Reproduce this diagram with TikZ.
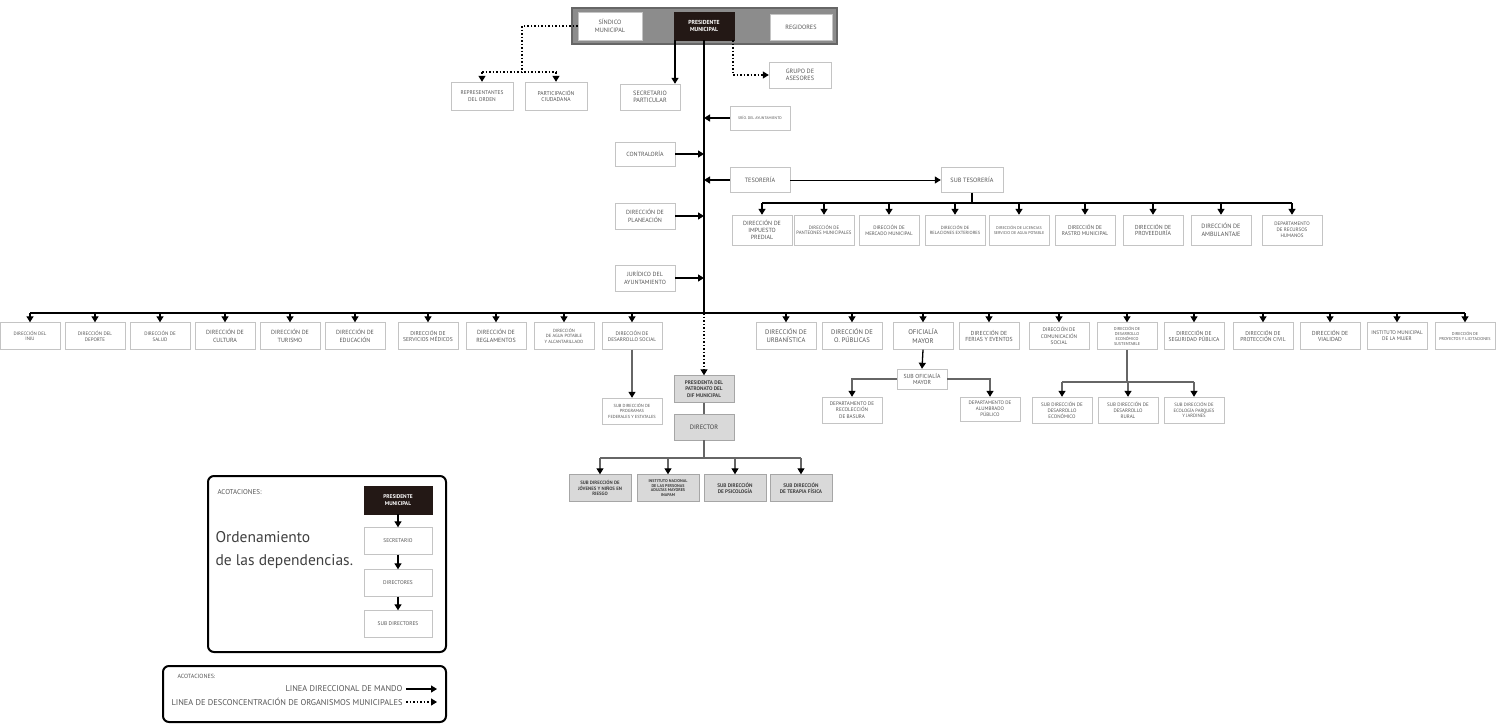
\documentclass[tikz,border=0pt]{standalone}
\usepackage{fontspec}
\setmainfont{PT Sans}
\usetikzlibrary{arrows.meta}

\definecolor{presbrown}{HTML}{231815}
\definecolor{boxline}{HTML}{C4C4C4}
\definecolor{boxtext}{HTML}{555555}
\definecolor{difgray}{HTML}{D9D9D9}
\definecolor{bannergray}{HTML}{8C8C8C}

\begin{document}
\begin{tikzpicture}[x=1pt,y=-1pt,
	box/.style={draw=boxline, fill=white, align=center, minimum width=60, minimum height=26, inner sep=1pt, text=boxtext, font=\fontsize{6}{7.2}\selectfont},
	fsz/.style={font=\fontsize{#1}{\fpeval{1.2*#1}}\selectfont},
	presbox/.style={box, draw=presbrown, fill=presbrown, text=white, font=\fontsize{5.8}{7}\selectfont\bfseries},
	difbox/.style={box, draw=black!35, fill=difgray, text=black!75, font=\fontsize{5.2}{6.2}\selectfont\bfseries},
	mando/.style={line width=1.3pt, -{Triangle[width=7pt,length=6pt]}},
	desc/.style={line width=1.2pt, dash pattern=on 1.5pt off 2pt},
	descarrow/.style={desc, -{Triangle[width=7pt,length=6pt]}},
	sub/.style={line width=1.2pt, draw=black!60},
	subarrow/.style={sub, -{Triangle[width=7pt,length=6pt,color=black]}},
	legframe/.style={line width=2pt, rounded corners=6pt},
]

% parameters %{{{2

	\def\busy{313}
	\def\rowy{336}
	\def\tesy{203}
	\def\tesrowy{230}
	\def\difbusy{458}
	\def\subbusy{382}

	\fill[white] (0,0) rectangle (1508,726);
	\useasboundingbox (0,0) rectangle (1508,726);

% banner %{{{2

	\filldraw[fill=bannergray, draw=black!60, line width=1.5pt] (572,8) rectangle (837,44);

	\node[box, minimum width=64, minimum height=28, fsz=6.2] (sind) at (610,26) {SÍNDICO\\MUNICIPAL};
	\node[presbox, minimum height=28] (pres) at (704,26) {PRESIDENTE\\MUNICIPAL};
	\node[box, minimum width=62, fsz=6.2] (regid) at (801,27) {REGIDORES};

% upper nodes %{{{2

	\node[box, minimum width=62, minimum height=28, fsz=5.4] (repr) at (482,96) {REPRESENTANTES\\DEL ORDEN};
	\node[box, minimum width=62, minimum height=28, fsz=5.6] (part) at (556,96) {PARTICIPACIÓN\\CIUDADANA};
	\node[box, fsz=6.2] (secp) at (650,97) {SECRETARIO\\PARTICULAR};
	\node[box, minimum width=62, fsz=6.2] (grupo) at (800,75) {GRUPO DE\\ASESORES};
	\node[box, minimum height=24, fsz=3.8] (srio) at (760,118) {SRÍO. DEL AYUNTAMIENTO};
	\node[box, minimum height=24] (contr) at (645,154) {CONTRALORÍA};
	\node[box, minimum height=25, fsz=6.2] (tesor) at (760,180) {TESORERÍA};
	\node[box, minimum width=62, minimum height=25, fsz=6.2] (subt) at (972,180) {SUB TESORERÍA};
	\node[box] (plan) at (645,216) {DIRECCIÓN DE\\PLANEACIÓN};
	\node[box] (jur) at (645,278) {JURÍDICO DEL\\AYUNTAMIENTO};

% upper connectors %{{{2

	\coordinate (sv) at (522,72);
	\coordinate (bus) at (0,\busy);

	\draw[desc] (sind.west) -| (sv);
	\draw[desc] (sv -| repr.north) -- (sv -| part.north);
	\draw[descarrow] (sv -| repr.north) -- (repr.north);
	\draw[descarrow] (sv -| part.north) -- (part.north);

	\draw[descarrow] ([xshift=29]pres.south) |- (grupo.west);
	\draw[mando] ([xshift=-29]pres.south) -- ([xshift=-29]pres.south |- secp.north);

	\draw[line width=2pt] (pres.south) -- (pres.south |- bus);

	\draw[mando] (srio.west) -- (srio.west -| pres.south);
	\draw[mando] (contr.east) -- (contr.east -| pres.south);
	\draw[mando] (tesor.west) -- (tesor.west -| pres.south);
	\draw[mando] (plan.east) -- (plan.east -| pres.south);
	\draw[mando] (jur.east) -- (jur.east -| pres.south);
	\draw[line width=1pt, -{Triangle[width=7pt,length=6pt]}] (tesor.east) -- (subt.west);

% sub tesoreria row %{{{2

	\coordinate (tbus) at (0,\tesy);

	\begin{scope}[every node/.append style={box, minimum height=30}]
		\node[fsz=6] (imp) at (762,\tesrowy) {DIRECCIÓN DE\\IMPUESTO\\PREDIAL};
		\node[fsz=4.8] (pant) at (824,\tesrowy) {DIRECCIÓN DE\\PANTEONES MUNICIPALES};
		\node[fsz=5] (merc) at (889,\tesrowy) {DIRECCIÓN DE\\MERCADO MUNICIPAL};
		\node[fsz=4.5] (rext) at (955,\tesrowy) {DIRECCIÓN DE\\RELACIONES EXTERIORES};
		\node[fsz=4.1] (lic) at (1019,\tesrowy) {DIRECCIÓN DE LICENCIAS\\SERVICIO DE AGUA POTABLE};
		\node[fsz=5.4] (rast) at (1085,\tesrowy) {DIRECCIÓN DE\\RASTRO MUNICIPAL};
		\node[fsz=5.8] (prov) at (1153,\tesrowy) {DIRECCIÓN DE\\PROVEEDURÍA};
		\node[fsz=6.2] (amb) at (1221,\tesrowy) {DIRECCIÓN DE\\AMBULANTAJE};
		\node[fsz=5] (rhum) at (1292,\tesrowy) {DEPARTAMENTO\\DE RECURSOS\\HUMANOS};
	\end{scope}

	\draw[line width=1.3pt] (subt.south) -- (subt.south |- tbus);
	\draw[line width=1.5pt] (imp.north |- tbus) -- (rhum.north |- tbus);
	\foreach \nm in {imp,pant,merc,rext,lic,rast,prov,amb,rhum} {
		\draw[mando] (\nm.north |- tbus) -- (\nm.north);
	}

% main row %{{{2

	\begin{scope}[every node/.append style={box, minimum height=27}]
		\node[fsz=4.8] (dinju) at (30,\rowy) {DIRECCIÓN DEL\\INJU};
		\node[fsz=5] (ddep) at (95,\rowy) {DIRECCIÓN DEL\\DEPORTE};
		\node[fsz=5] (dsal) at (160,\rowy) {DIRECCIÓN DE\\SALUD};
		\node[fsz=6] (dcul) at (225,\rowy) {DIRECCIÓN DE\\CULTURA};
		\node[fsz=6] (dtur) at (290,\rowy) {DIRECCIÓN DE\\TURISMO};
		\node[fsz=6] (dedu) at (355,\rowy) {DIRECCIÓN DE\\EDUCACIÓN};
		\node[fsz=5.6] (dmed) at (428,\rowy) {DIRECCIÓN DE\\SERVICIOS MÉDICOS};
		\node[fsz=6] (dreg) at (496,\rowy) {DIRECCIÓN DE\\REGLAMENTOS};
		\node[fsz=4.5] (dagua) at (564,\rowy) {DIRECCIÓN\\DE AGUA POTABLE\\Y ALCANTARILLADO};
		\node[fsz=5.2] (dsoc) at (632,\rowy) {DIRECCIÓN DE\\DESARROLLO SOCIAL};
		\node[fsz=6.6] (durb) at (786,\rowy) {DIRECCIÓN DE\\URBANÍSTICA};
		\node[fsz=6.6] (dobp) at (852,\rowy) {DIRECCIÓN DE\\O. PÚBLICAS};
		\node[fsz=6.8] (ofic) at (923,\rowy) {OFICIALÍA\\MAYOR};
		\node[fsz=5.8] (dfer) at (989,\rowy) {DIRECCIÓN DE\\FERIAS Y EVENTOS};
		\node[fsz=5.2] (dcom) at (1059,\rowy) {DIRECCIÓN DE\\COMUNICACIÓN\\SOCIAL};
		\node[fsz=4.2] (decon) at (1127,\rowy) {DIRECCIÓN DE\\DESARROLLO\\ECONÓMICO\\SUSTENTABLE};
		\node[fsz=5.6] (dseg) at (1194,\rowy) {DIRECCIÓN DE\\SEGURIDAD PÚBLICA};
		\node[fsz=5.6] (dciv) at (1263,\rowy) {DIRECCIÓN DE\\PROTECCIÓN CIVIL};
		\node[fsz=5.8] (dvia) at (1330,\rowy) {DIRECCIÓN DE\\VIALIDAD};
		\node[fsz=5.2] (dmuj) at (1397,\rowy) {INSTITUTO MUNICIPAL\\DE LA MUJER};
		\node[fsz=4.2] (dproy) at (1465,\rowy) {DIRECCIÓN DE\\PROYECTOS Y LICITACIONES};
	\end{scope}

	\draw[line width=2pt] (bus -| dinju.north) -- (bus -| dproy.north);
	\foreach \nm in {dinju,ddep,dsal,dcul,dtur,dedu,dmed,dreg,dagua,dsoc,durb,dobp,ofic,dfer,dcom,decon,dseg,dciv,dvia,dmuj,dproy} {
		\draw[mando] (\nm.north |- bus) -- (\nm.north);
	}

% lower nodes %{{{2

	\node[box, fsz=4.4] (subprog) at (632,411) {SUB DIRECCIÓN DE\\PROGRAMAS\\FEDERALES Y ESTATALES};

	\node[difbox, minimum height=27] (patr) at (704,389) {PRESIDENTA DEL\\PATRONATO DEL\\DIF MUNICIPAL};
	\node[difbox, font=\fontsize{6.4}{7.6}\selectfont] (dirdif) at (704,427) {DIRECTOR};

	\node[box, minimum width=50, minimum height=20, fsz=5.8] (subof) at (922,379) {SUB OFICIALÍA\\MAYOR};
	\node[box, fsz=5.2] (recol) at (852,410) {DEPARTAMENTO DE\\RECOLECCIÓN\\DE BASURA};
	\node[box, minimum height=24, fsz=5] (alum) at (990,409) {DEPARTAMENTO DE\\ALUMBRADO\\PÚBLICO};

	\node[box, fsz=5] (sdeco) at (1062,410) {SUB DIRECCIÓN DE\\DESARROLLO\\ECONÓMICO};
	\node[box, fsz=5] (sdrur) at (1128,410) {SUB DIRECCIÓN DE\\DESARROLLO\\RURAL};
	\node[box, fsz=4.7] (seco) at (1194,410) {SUB DIRECCIÓN DE\\ECOLOGÍA PARQUES\\Y JARDINES};

	\begin{scope}[every node/.append style={difbox, minimum width=62, minimum height=27}]
		\node[font=\fontsize{4.8}{5.8}\selectfont\bfseries] (sjov) at (600,488) {SUB DIRECCIÓN DE\\JÓVENES Y NIÑOS EN\\RIESGO};
		\node[font=\fontsize{4.1}{4.9}\selectfont\bfseries] (inap) at (668,488) {INSTITUTO NACIONAL\\DE LAS PERSONAS\\ADULTAS MAYORES\\INAPAM};
		\node[font=\fontsize{5.2}{6.2}\selectfont\bfseries] (spsi) at (735,488) {SUB DIRECCIÓN\\DE PSICOLOGÍA};
		\node[font=\fontsize{5.2}{6.2}\selectfont\bfseries] (sfis) at (801,488) {SUB DIRECCIÓN\\DE TERAPIA FÍSICA};
	\end{scope}

% lower connectors %{{{2

	\coordinate (dbus) at (0,\difbusy);
	\coordinate (ebus) at (0,\subbusy);

	\draw[subarrow] (dsoc.south) -- (subprog.north);
	\draw[descarrow] (pres.south |- bus) -- (patr.north);
	\draw[sub] (patr.south) -- (dirdif.north);
	\draw[sub] (dirdif.south) -- (dirdif.south |- dbus);
	\draw[sub] (dbus -| sjov.north) -- (dbus -| sfis.north);
	\foreach \nm in {sjov,inap,spsi,sfis} { \draw[subarrow] (dbus -| \nm.north) -- (\nm.north); }

	\draw[mando] (ofic.south) -- (subof.north);
	\draw[subarrow] (subof.west) -| (recol.north);
	\draw[subarrow] (subof.east) -| (alum.north);

	\draw[sub] (decon.south) -- (decon.south |- ebus);
	\draw[sub] (ebus -| sdeco.north) -- (ebus -| seco.north);
	\foreach \nm in {sdeco,sdrur,seco} { \draw[subarrow] (ebus -| \nm.north) -- (\nm.north); }

% legend: ordenamiento %{{{2

	\draw[legframe] (208,476) rectangle (446,652);

	\node[anchor=west, text=boxtext, fsz=7] (acotuno) at (214,492) {ACOTACIONES:};
	\node[anchor=north west, align=left, text=black!75, font=\fontsize{15.5}{23}\selectfont] (orden) at (212,528) {Ordenamiento\\de las dependencias.};

	\node[presbox, minimum width=68, minimum height=28, font=\fontsize{5.4}{6.5}\selectfont\bfseries] (lpres) at (398,500) {PRESIDENTE\\MUNICIPAL};
	\node[box, minimum width=68, minimum height=27, fsz=5.4] (lsec) at (398,541) {SECRETARIO};
	\node[box, minimum width=68, minimum height=27, fsz=5.4] (ldir) at (398,583) {DIRECTORES};
	\node[box, minimum width=68, minimum height=27, fsz=5.4] (lsub) at (398,624) {SUB DIRECTORES};

	\draw[mando] (lpres.south) -- (lsec.north);
	\draw[mando] (lsec.south) -- (ldir.north);
	\draw[mando] (ldir.south) -- (lsub.north);

% legend: lineas %{{{2

	\draw[legframe] (163,666) rectangle (446,722);

	\node[anchor=west, text=boxtext, fsz=6] (acotdos) at (174,676) {ACOTACIONES:};
	\node[anchor=east, text=boxtext, fsz=8.4] (lmando) at (406,689) {LINEA DIRECCIONAL DE MANDO};
	\node[anchor=east, text=boxtext, fsz=8.4] (ldesc) at (406,702) {LINEA DE DESCONCENTRACIÓN DE ORGANISMOS MUNICIPALES};

	\coordinate (lend) at (437,689);
	\draw[mando] (lmando.east) -- (lend);
	\draw[descarrow] (ldesc.east) -- (ldesc.east -| lend);

% closing %{{{2

\end{tikzpicture}
\end{document}
